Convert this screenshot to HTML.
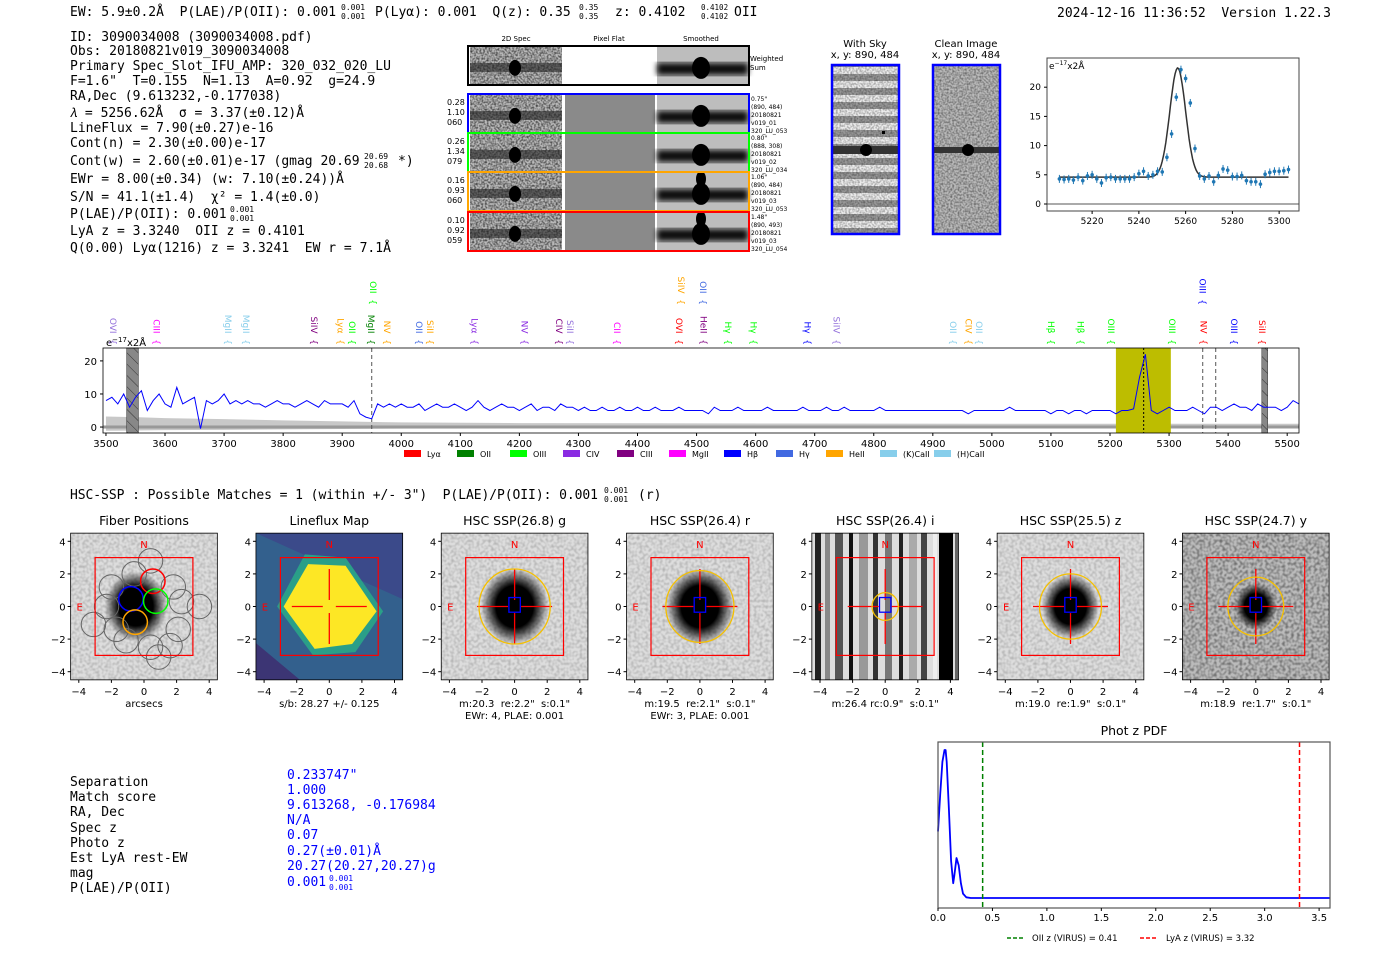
<!DOCTYPE html>
<html><head><meta charset="utf-8"><title>ELiXer report 3090034008</title>
<style>
html,body{margin:0;padding:0;background:#fff;width:1400px;height:953px;overflow:hidden}
svg{display:block}
text{white-space:pre}
.mono{font-family:"DejaVu Sans Mono","Liberation Mono",monospace;font-size:13px;fill:#000}
.sans{font-family:"DejaVu Sans","Liberation Sans",sans-serif}
.sm{font-family:"DejaVu Sans","Liberation Sans",sans-serif;font-size:7px;fill:#000}
</style></head>
<body>
<svg id="page" width="1400" height="953" viewBox="0 0 1400 953" xmlns="http://www.w3.org/2000/svg" xml:space="preserve">
<defs>
<filter id="noise" x="0" y="0" width="100%" height="100%"><feTurbulence type="fractalNoise" baseFrequency="0.55" numOctaves="1" seed="3"/><feColorMatrix type="matrix" values="0 0 0 0 0  0 0 0 0 0  0 0 0 0 0  0 0 0 1.6 -0.55"/></filter>
<filter id="noise2" x="0" y="0" width="100%" height="100%"><feTurbulence type="fractalNoise" baseFrequency="0.35" numOctaves="1" seed="7"/><feColorMatrix type="matrix" values="0 0 0 0 0  0 0 0 0 0  0 0 0 0 0  0 0 0 1.2 -0.45"/></filter>
<filter id="blur3"><feGaussianBlur stdDeviation="3"/></filter>
<pattern id="hatch" width="8" height="8" patternUnits="userSpaceOnUse" patternTransform="rotate(-45)"><rect width="8" height="8" fill="#888"/><line x1="0" y1="0" x2="0" y2="8" stroke="#333" stroke-width="1"/></pattern>
<pattern id="skystripe" width="10" height="14" patternUnits="userSpaceOnUse"><rect width="10" height="14" fill="#eee"/><rect y="4" width="10" height="7" fill="#999"/></pattern>
<pattern id="istripe" x="811" y="0" width="150" height="10" patternUnits="userSpaceOnUse">
<rect width="150" height="10" fill="#ddd"/><rect x="4" width="6" height="10" fill="#222"/><rect x="14" width="5" height="10" fill="#888"/><rect x="24" width="8" height="10" fill="#555"/><rect x="38" width="4" height="10" fill="#111"/><rect x="48" width="9" height="10" fill="#999"/><rect x="62" width="5" height="10" fill="#333"/><rect x="74" width="7" height="10" fill="#777"/><rect x="88" width="4" height="10" fill="#222"/><rect x="98" width="8" height="10" fill="#aaa"/><rect x="110" width="6" height="10" fill="#444"/><rect x="122" width="4" height="10" fill="#eee"/><rect x="128" width="14" height="10" fill="#000"/><rect x="144" width="3" height="10" fill="#666"/>
</pattern>
<radialGradient id="blob"><stop offset="0" stop-color="#000"/><stop offset="0.55" stop-color="#000"/><stop offset="1" stop-color="#000" stop-opacity="0"/></radialGradient>
</defs>

<g class="mono">
<text x="70" y="16">EW: 5.9±0.2Å  P(LAE)/P(OII): 0.001</text>
<text x="341" y="10" font-size="8">0.001</text><text x="341" y="19" font-size="8">0.001</text>
<text x="375" y="16">P(Lyα): 0.001  Q(z): 0.35</text>
<text x="579" y="10" font-size="8">0.35</text><text x="579" y="19" font-size="8">0.35</text>
<text x="615" y="16">z: 0.4102</text>
<text x="701" y="10" font-size="7.5">0.4102</text><text x="701" y="19" font-size="7.5">0.4102</text>
<text x="734" y="16">OII</text>
</g>
<text class="mono" x="1057" y="17">2024-12-16 11:36:52  Version 1.22.3</text>

<g class="mono">
<text x="70" y="41">ID: 3090034008 (3090034008.pdf)</text>
<text x="70" y="55">Obs: 20180821v019_3090034008</text>
<text x="70" y="70">Primary Spec_Slot_IFU_AMP: 320_032_020_LU</text>
<text x="70" y="85">F=1.6"  T=0.155  N=1.13  A=0.92  g=24.9</text>
<text x="70" y="100">RA,Dec (9.613232,-0.177038)</text>
<text x="70" y="117">𝜆 = 5256.62Å  σ = 3.37(±0.12)Å</text>
<text x="70" y="132">LineFlux = 7.90(±0.27)e-16</text>
<text x="70" y="147">Cont(n) = 2.30(±0.00)e-17</text>
<text x="70" y="165">Cont(w) = 2.60(±0.01)e-17 (gmag 20.69</text>
<text x="364" y="159" font-size="8">20.69</text><text x="364" y="168" font-size="8">20.68</text>
<text x="398" y="165">*)</text>
<text x="70" y="183">EWr = 8.00(±0.34) (w: 7.10(±0.24))Å</text>
<text x="70" y="201">S/N = 41.1(±1.4)  χ² = 1.4(±0.0)</text>
<text x="70" y="218">P(LAE)/P(OII): 0.001</text>
<text x="230" y="212" font-size="8">0.001</text><text x="230" y="221" font-size="8">0.001</text>
<text x="70" y="235">LyA z = 3.3240  OII z = 0.4101</text>
<text x="70" y="252">Q(0.00) Lyα(1216) z = 3.3241  EW r = 7.1Å</text>
</g>

<g>
<text class="sm" x="516" y="41" text-anchor="middle">2D Spec</text>
<text class="sm" x="609" y="41" text-anchor="middle">Pixel Flat</text>
<text class="sm" x="701" y="41" text-anchor="middle">Smoothed</text>
<text class="sm" x="750" y="61">Weighted</text><text class="sm" x="750" y="70">Sum</text>
</g>
<g id="spec2d"></g>

<g>
<text class="sans" x="865" y="47" font-size="10" text-anchor="middle">With Sky</text>
<text class="sans" x="865" y="58" font-size="10" text-anchor="middle">x, y: 890, 484</text>
<rect x="832" y="65" width="67" height="169" fill="url(#skystripe)"/>
<rect x="832" y="65" width="67" height="169" filter="url(#noise)" opacity="0.5"/>
<rect x="832" y="146" width="67" height="8" fill="#333"/>
<circle cx="866" cy="150" r="6" fill="#000"/><rect x="882" y="131" width="3" height="3" fill="#000"/>
<rect x="832" y="65" width="67" height="169" fill="none" stroke="#00f" stroke-width="2.5"/>
</g>
<g>
<text class="sans" x="966" y="47" font-size="10" text-anchor="middle">Clean Image</text>
<text class="sans" x="966" y="58" font-size="10" text-anchor="middle">x, y: 890, 484</text>
<rect x="933" y="65" width="67" height="169" fill="#bbb"/>
<rect x="933" y="65" width="67" height="169" filter="url(#noise)" opacity="0.6"/>
<rect x="933" y="147" width="67" height="6" fill="#333"/>
<circle cx="968" cy="150" r="6" fill="#000"/>
<rect x="933" y="65" width="67" height="169" fill="none" stroke="#00f" stroke-width="2.5"/>
</g>

<g id="fitplot"></g>
<g id="spectrum"></g>

<text class="mono" x="70" y="499" textLength="528">HSC-SSP : Possible Matches = 1 (within +/- 3")  P(LAE)/P(OII): 0.001</text>
<text class="mono" x="604" y="493" style="font-size:8px">0.001</text>
<text class="mono" x="604" y="502" style="font-size:8px">0.001</text>
<text class="mono" x="638" y="499">(r)</text>

<g id="cutouts"></g>

<g class="mono">
<text x="70" y="786">Separation</text><text x="287" y="779" style="fill:#00f">0.233747"</text>
<text x="70" y="801">Match score</text><text x="287" y="794" style="fill:#00f">1.000</text>
<text x="70" y="816">RA, Dec</text><text x="287" y="809" style="fill:#00f">9.613268, -0.176984</text>
<text x="70" y="832">Spec z</text><text x="287" y="824" style="fill:#00f">N/A</text>
<text x="70" y="847">Photo z</text><text x="287" y="839" style="fill:#00f">0.07</text>
<text x="70" y="862">Est LyA rest-EW</text><text x="287" y="855" style="fill:#00f">0.27(±0.01)Å</text>
<text x="70" y="877">mag</text><text x="287" y="870" style="fill:#00f">20.27(20.27,20.27)g</text>
<text x="70" y="892">P(LAE)/P(OII)</text><text x="287" y="886" style="fill:#00f">0.001</text>
<text x="329" y="881" font-size="8" style="fill:#00f">0.001</text><text x="329" y="890" font-size="8" style="fill:#00f">0.001</text>
</g>

<g id="photz"></g>
</svg>

<script>
const NS='http://www.w3.org/2000/svg';
function mk(parent,tag,attrs,text){const e=document.createElementNS(NS,tag);for(const k in attrs)e.setAttribute(k,attrs[k]);if(text!==undefined)e.textContent=text;parent.appendChild(e);return e;}

/* ---------------- main spectrum data ---------------- */
const specWaveStart=3500;
const specWaveStep=10;
const specFlux=[
8,9,7,10,6,9,11,5,8,10,7,6,12,7,8,9,-0.5,8,7,8,
10,7,8,7,8,7,7,6,7,8,7,7,6,7,8,7,6,8,7,7,
7,6,8,4,3,2.5,7,6,7,6,7,6,6,7,5,6,7,6,6,7,
6,5,6,8,6,5,6,7,6,6,5,6,7,5,6,6,5,7,6,6,
5,6,5,5,6,5,5,6,5,5,6,5,5,6,5,5,5,6,5,5,
5,5,4,6,5,5,5,6,5,5,5,5,6,5,5,5,5,5,6,5,
5,5,6,5,5,6,5,5,5,5,5,6,5,5,5,5,5,5,5,5,
5,5,5,5,5,5,4,5,5,5,5,5,5,6,5,5,5,5,5,5,
4,5,5,4,5,5,4,5,5,5,5,4,5,5,5.5,15,22,5,4,5,
6,5,5,5,6,5,4,6,6,5,6,7,6,6,5,7,6,6,6,5,
6,8,7];
const specErrWave=[3500,3550,3600,3700,3800,3900,4000,4200,4500,5000,5520];
const specErr=[3.2,3.0,2.7,2.4,2.0,1.7,1.4,1.2,1.1,1.0,1.0];
const specTicks=[3500,3600,3700,3800,3900,4000,4100,4200,4300,4400,4500,4600,4700,4800,4900,5000,5100,5200,5300,5400,5500];
const specYTicks=[0,10,20];
const lineNames=['OVI','CIII','MgII','MgII','SiIV','Lyα','OII','MgII','NV','OII','SiII','Lyα','NV','CIV','SiII','CII','OVI','HeII','Hγ','Hγ','Hγ','SiIV','OII','CIV','OII','Hβ','Hβ','OIII','OIII','NV','OIII','SiII','OII','SiIV','OII','OIII'];
const lineWaves=[3512,3586,3707,3737,3852,3897,3917,3949,3976,4030,4049,4124,4209,4267,4286,4365,4470,4512,4553,4596,4688,4737,4934,4960,4978,5100,5150,5202,5305,5358,5410,5457,3952,4474,4511,5357];
const lineRow=[0,0,0,0,0,0,0,0,0,0,0,0,0,0,0,0,0,0,0,0,0,0,0,0,0,0,0,0,0,0,0,0,1,1,1,1];
const lineColors=['#9370db','#ff00ff','#87ceeb','#87ceeb','#800080','#ffa500','#00ff00','#008000','#ffa500','#4169e1','#ffa500','#8a2be2','#8a2be2','#800080','#9370db','#ff00ff','#ff0000','#800080','#00ff00','#00ff00','#0000ff','#9370db','#87ceeb','#ffa500','#87ceeb','#00ff00','#00ff00','#00ff00','#00ff00','#ff0000','#0000ff','#ff0000','#00ff00','#ffa500','#4169e1','#0000ff'];
const legendNames=['Lyα','OII','OIII','CIV','CIII','MgII','Hβ','Hγ','HeII','(K)CaII','(H)CaII'];
const legendColors=['#ff0000','#008000','#00ff00','#8a2be2','#800080','#ff00ff','#0000ff','#4169e1','#ffa500','#87ceeb','#87ceeb'];

(function(){
 const g=document.getElementById('spectrum');
 
 
 const L=103,R=1299,T=348,B=433,x0=3495,x1=5520,y0=-1.8,y1=23.9;
 const X=w=>L+(w-x0)/(x1-x0)*(R-L), Y=v=>B-(v-y0)/(y1-y0)*(B-T);
 let top='',bot='';
 specErrWave.forEach((w,i)=>{top+=X(w)+','+Y(specErr[i])+' ';});
 for(let i=specErrWave.length-1;i>=0;i--)bot+=X(specErrWave[i])+','+Y(-specErr[i]*0.35)+' ';
 const band=mk(g,'polygon',{points:top+bot,fill:'#c8c8c8'});
 
 
 const zl=mk(g,'line',{x1:L,x2:R,y1:Y(0),y2:Y(0),stroke:'#999',"stroke-width":3});
 
 
 const ol=mk(g,'rect',{x:X(5210),y:T,width:X(5303)-X(5210),height:B-T,fill:'#bdbd00'});
 
 
 [[3535,3555],[5457,5467]].forEach(r=>{const h=mk(g,'rect',{x:X(r[0]),y:T,width:X(r[1])-X(r[0]),height:B-T,fill:'url(#hatch)',stroke:'#333','stroke-width':0.5});
 
 });
 [3950,5357,5379].forEach(w=>{const d=mk(g,'line',{x1:X(w),x2:X(w),y1:T,y2:B,stroke:'#555','stroke-dasharray':'4,3'});
 
 });
 const pk=mk(g,'line',{x1:X(5257),x2:X(5257),y1:T,y2:B,stroke:'#000','stroke-dasharray':'2,2'});
 
 
 const pts=specFlux.map((v,i)=>X(specWaveStart+i*specWaveStep).toFixed(1)+','+Y(v).toFixed(1)).join(' ');
 const fl=mk(g,'polyline',{points:pts,fill:'none',stroke:'#0000ff','stroke-width':1});
 
 
 const fr=mk(g,'rect',{x:L,y:T,width:R-L,height:B-T,fill:'none',stroke:'#000','stroke-width':0.8});
 
 
 specTicks.forEach(t=>{mk(g,'line',{x1:X(t),x2:X(t),y1:B,y2:B+3,stroke:'#000'});
  const tl=mk(g,'text',{x:X(t),y:B+14,'font-size':10,'text-anchor':'middle',class:'sans'},String(t));
  
  });
 specYTicks.forEach(t=>{mk(g,'line',{x1:L-3,x2:L,y1:Y(t),y2:Y(t),stroke:'#000'});
  const tl=mk(g,'text',{x:L-6,y:Y(t)+4,'font-size':10,'text-anchor':'end',class:'sans'},String(t));
  
  });
 const un=mk(g,'text',{x:106,y:346,'font-size':10,class:'sans'});
 un.innerHTML='e<tspan font-size="7" dy="-4">−17</tspan><tspan dy="4">x2Å</tspan>';
 
 
 lineNames.forEach((n,i)=>{const x=X(lineWaves[i]);const yEnd=lineRow[i]?305:345;
  const t=mk(g,'text',{x:0,y:0,'font-size':9,class:'sans',fill:lineColors[i],'text-anchor':'end',transform:`translate(${x-3},${yEnd}) rotate(90)`},n+'  {');
  
  });
 const lx=[404,457,510,563,617,669,724,776,826,880,934];
 legendNames.forEach((n,i)=>{const p=mk(g,'rect',{x:lx[i],y:450,width:17,height:7,fill:legendColors[i]});
  
  
  const t=mk(g,'text',{x:lx[i]+23,y:457,'font-size':8,class:'sans'},n);
  
  });
})();

/* ---------------- line fit plot ---------------- */
const fitStart=5206;
const fitStep=2;
const fitFlux=[4.3,4.2,4.3,4.1,4.6,4.0,4.8,5.0,4.3,3.6,4.5,4.6,4.3,4.3,4.3,4.3,4.6,5.2,5.6,4.8,5.0,5.6,5.5,8.0,12.0,18.3,23.0,21.5,17.3,9.5,4.8,4.3,4.8,3.8,4.9,6.0,5.8,4.7,4.7,4.9,4.0,3.8,3.8,3.4,5.1,5.4,5.6,5.6,5.7,5.9];
const fitCenter=5256.62, fitSigma=3.37, fitAmp=18.7, fitCont=4.6;
const fitTicks=[5220,5240,5260,5280,5300];
const fitYTicks=[0,5,10,15,20];
(function(){
 const g=document.getElementById('fitplot');
 
 
 const L=1047,R=1299,T=58,B=211,x0=5200.7,x1=5308.5,y0=-1.2,y1=25;
 const X=w=>L+(w-x0)/(x1-x0)*(R-L), Y=v=>B-(v-y0)/(y1-y0)*(B-T);
 mk(g,'line',{x1:L,x2:R,y1:Y(0),y2:Y(0),stroke:'#555','stroke-width':1});
 let p='';for(let w=5206;w<=5304;w+=0.5){p+=X(w).toFixed(1)+','+Y(fitCont+fitAmp*Math.exp(-0.5*((w-fitCenter)/fitSigma)**2)).toFixed(1)+' ';}
 const m=mk(g,'polyline',{points:p,fill:'none',stroke:'#333','stroke-width':1.5});
 
 
 fitFlux.forEach((v,i)=>{const x=X(fitStart+i*fitStep),y=Y(v);
  const e=mk(g,'line',{x1:x,x2:x,y1:y-4,y2:y+4,stroke:'#1f77b4','stroke-width':1});
  
  
  const c=mk(g,'circle',{cx:x,cy:y,r:1.8,fill:'#1f77b4'});
  
  });
 const fr=mk(g,'rect',{x:L,y:T,width:R-L,height:B-T,fill:'none',stroke:'#444'});
 
 
 fitTicks.forEach(t=>{mk(g,'line',{x1:X(t),x2:X(t),y1:B,y2:B+3,stroke:'#000'});
  const tl=mk(g,'text',{x:X(t),y:B+13,'font-size':9,'text-anchor':'middle',class:'sans'},String(t));
  
  });
 fitYTicks.forEach(t=>{mk(g,'line',{x1:L-3,x2:L,y1:Y(t),y2:Y(t),stroke:'#000'});
  const tl=mk(g,'text',{x:L-6,y:Y(t)+3,'font-size':9,'text-anchor':'end',class:'sans'},String(t));
  
  });
 const un=mk(g,'text',{x:L+2,y:T+11,'font-size':9,class:'sans'});
 un.innerHTML='e<tspan font-size="6" dy="-4">−17</tspan><tspan dy="4">x2Å</tspan>';
 
 
})();

/* ---------------- 2D spectra ---------------- */
const rowColors=['#000','#00f','#0f0','orange','red'];
const rowTops=[47,95,134,173,213];
const rowLeft=[['',''],['0.28','1.10','060'],['0.26','1.34','079'],['0.16','0.93','060'],['0.10','0.92','059']];
const rowRight=[[],['0.75"','(890, 484)','20180821','v019_01','320_LU_053'],['0.80"','(888, 308)','20180821','v019_02','320_LU_034'],['1.06"','(890, 484)','20180821','v019_03','320_LU_053'],['1.48"','(890, 493)','20180821','v019_03','320_LU_054']];
(function(){
 const g=document.getElementById('spec2d');
 rowTops.forEach((y,i)=>{const h=38;
  const r=mk(g,'g',{});
  
  
  mk(r,'rect',{x:470,y:y,width:92,height:h,fill:'#bbb'});
  mk(r,'rect',{x:470,y:y,width:92,height:h,filter:'url(#noise)',opacity:0.9});
  mk(r,'rect',{x:470,y:y+h*0.42,width:92,height:9,fill:'#222',opacity:0.6});
  mk(r,'ellipse',{cx:515,cy:y+h*0.55,rx:6,ry:8,fill:'#000'});
  mk(r,'rect',{x:565,y:y,width:90,height:h,fill:i==0?'#fff':'#8a8a8a'});
  mk(r,'rect',{x:657,y:y,width:91,height:h,fill:'#bdbdbd'});
  mk(r,'rect',{x:657,y:y+h*0.42,width:91,height:12,fill:'#111',filter:'url(#blur3)'});
  mk(r,'ellipse',{cx:701,cy:y+h*0.55,rx:9,ry:11,fill:'#000'});
  if(i>=3)mk(r,'ellipse',{cx:701,cy:y+6,rx:5,ry:8,fill:'#000'});
  mk(r,'rect',{x:468,y:y-1,width:281,height:h+1,fill:'none',stroke:rowColors[i],'stroke-width':2});
  rowLeft[i].forEach((s,k)=>{mk(r,'text',{x:447,y:y+10+k*10,'font-size':8,class:'sans'},s);});
  rowRight[i].forEach((s,k)=>{mk(r,'text',{x:751,y:y+6+k*8,'font-size':6,class:'sans'},s);});
 });
})();

/* ---------------- cutouts ---------------- */
const cutTitles=['Fiber Positions','Lineflux Map','HSC SSP(26.8) g','HSC SSP(26.4) r','HSC SSP(26.4) i','HSC SSP(25.5) z','HSC SSP(24.7) y'];
const cutCaps=[['arcsecs'],['s/b: 28.27 +/- 0.125'],['m:20.3  re:2.2"  s:0.1"','EWr: 4, PLAE: 0.001'],['m:19.5  re:2.1"  s:0.1"','EWr: 3, PLAE: 0.001'],['m:26.4 rc:0.9"  s:0.1"'],['m:19.0  re:1.9"  s:0.1"'],['m:18.9  re:1.7"  s:0.1"']];
const apRadius=[0,0,2.3,2.2,0.85,2.0,1.8];
const blobRadius=[1.2,0,1.3,1.3,0,1.1,0.8];
const cutTicks=[-4,-2,0,2,4];
const fiberX=[0.4,-0.6,-2.0,1.8,3.4,-3.1,-1.7,0.4,0.9,2.1,2.3,-2.3,-1.1,1.6];
const fiberY=[2.8,2.0,1.2,1.2,0.0,-1.1,-1.4,-2.5,-3.1,-1.4,0.3,0.0,-2.1,-2.4];
const fibColX=[-0.8,0.54,0.72,-0.54];
const fibColY=[0.47,1.55,0.33,-0.96];
const fibCol=['#00f','red','#0f0','orange'];
(function(){
 const root=document.getElementById('cutouts');
 const S=16.3;
 cutTitles.forEach((title,i)=>{
  const cx=144+i*185.3, cy=606.5, L=cx-4.5*S, T=cy-4.5*S, W=9*S;
  const g=mk(root,'g',{});
  
  
  const clip='clip'+i;
  const cp=mk(g,'clipPath',{id:clip});mk(cp,'rect',{x:L,y:T,width:W,height:W});
  const im=mk(g,'g',{'clip-path':`url(#${clip})`});
  if(i==1){
   mk(im,'rect',{x:L,y:T,width:W,height:W,fill:'#33608d'});
   mk(im,'polygon',{points:`${L},${T} ${L+W},${T} ${L+W},${T+W*0.45}`,fill:'#3b4a8a'});
   mk(im,'polygon',{points:`${L},${T+W*0.75} ${L+W*0.3},${T+W} ${L},${T+W}`,fill:'#3e2a6e',opacity:0.8});
   mk(im,'polygon',{points:`${cx-3.2*S},${cy} ${cx-1.5*S},${cy-3.2*S} ${cx+1*S},${cy-3*S} ${cx+3.3*S},${cy+0.3*S} ${cx+1.6*S},${cy+2.8*S} ${cx-1*S},${cy+3*S}`,fill:'#2a9f88'});
   mk(im,'polygon',{points:`${cx-2.8*S},${cy} ${cx-1.3*S},${cy-2.6*S} ${cx+1*S},${cy-2.5*S} ${cx+2.9*S},${cy+0.3*S} ${cx+1.4*S},${cy+2.3*S} ${cx-0.9*S},${cy+2.6*S}`,fill:'#fde725'});
  } else if(i==4){
   mk(im,'rect',{x:L,y:T,width:W,height:W,fill:'url(#istripe)'});
  } else {
   mk(im,'rect',{x:L,y:T,width:W,height:W,fill:i==6?'#bbb':'#ddd'});
   mk(im,'rect',{x:L,y:T,width:W,height:W,filter:'url(#noise2)',opacity:i==6?0.8:0.35});
   const bx=i==0?cx-0.5*S:cx;
   mk(im,'ellipse',{cx:bx,cy:cy,rx:blobRadius[i]*S*1.6,ry:blobRadius[i]*S*1.8,fill:'url(#blob)'});
  }
  if(i==0){
   fiberX.forEach((fx,k)=>{const c=mk(im,'circle',{cx:cx+fx*S,cy:cy-fiberY[k]*S,r:0.75*S,fill:'none',stroke:'#666','stroke-width':1});
    
    });
   fibColX.forEach((fx,k)=>{const c=mk(im,'circle',{cx:cx+fx*S,cy:cy-fibColY[k]*S,r:0.75*S,fill:'none',stroke:fibCol[k],'stroke-width':1.5});
    
    });
  }
  mk(g,'rect',{x:cx-3*S,y:cy-3*S,width:6*S,height:6*S,fill:'none',stroke:'red','stroke-width':1.2});
  if(i>=1){
   mk(g,'line',{x1:cx-2.3*S,x2:cx-0.4*S,y1:cy,y2:cy,stroke:'red','stroke-width':1.3});
   mk(g,'line',{x1:cx+0.4*S,x2:cx+2.3*S,y1:cy,y2:cy,stroke:'red','stroke-width':1.3});
   mk(g,'line',{x1:cx,x2:cx,y1:cy-2.3*S,y2:cy-0.4*S,stroke:'red','stroke-width':1.3});
   mk(g,'line',{x1:cx,x2:cx,y1:cy+0.4*S,y2:cy+2.3*S,stroke:'red','stroke-width':1.3});
  }
  if(apRadius[i]>0){const a=mk(g,'ellipse',{cx:cx,cy:cy,rx:apRadius[i]*S*0.95,ry:apRadius[i]*S,fill:'none',stroke:'#f5c000','stroke-width':1.3});
   
   
   mk(g,'rect',{x:cx-0.35*S,y:cy-0.55*S,width:0.7*S,height:0.9*S,fill:'none',stroke:'#00f','stroke-width':1.3});}
  mk(g,'text',{x:cx,y:cy-3.6*S,'font-size':10,fill:'red','text-anchor':'middle',class:'sans'},'N');
  mk(g,'text',{x:L+9,y:cy+4,'font-size':10,fill:'red','text-anchor':'middle',class:'sans'},'E');
  mk(g,'rect',{x:L,y:T,width:W,height:W,fill:'none',stroke:'#000','stroke-width':0.8});
  const tt=mk(g,'text',{x:cx,y:525,'font-size':12.5,'text-anchor':'middle',class:'sans'},title);
  
  
  cutTicks.forEach(t=>{
   mk(g,'line',{x1:cx+t*S,x2:cx+t*S,y1:T+W,y2:T+W+3,stroke:'#000'});
   mk(g,'text',{x:cx+t*S,y:T+W+15,'font-size':10,'text-anchor':'middle',class:'sans'},t<0?'−'+(-t):String(t));
   mk(g,'line',{x1:L-3,x2:L,y1:cy-t*S,y2:cy-t*S,stroke:'#000'});
   mk(g,'text',{x:L-5,y:cy-t*S+4,'font-size':10,'text-anchor':'end',class:'sans'},t<0?'−'+(-t):String(t));
  });
  cutCaps[i].forEach((c,k)=>{const ct=mk(g,'text',{x:cx,y:707+k*12,'font-size':10,'text-anchor':'middle',class:'sans'},c);
   
   });
 });
})();

/* ---------------- phot z PDF ---------------- */
const pdfZ=[0,0.02,0.04,0.06,0.07,0.08,0.1,0.12,0.14,0.15,0.17,0.19,0.21,0.23,0.26,0.3,3.6];
const pdfP=[0.45,0.7,0.92,1.0,1.0,0.92,0.6,0.25,0.1,0.15,0.27,0.22,0.1,0.03,0.005,0,0];
const pdfTicks=[0,0.5,1.0,1.5,2.0,2.5,3.0,3.5];
const oiiZ=0.41, lyaZ=3.32;
(function(){
 const g=document.getElementById('photz');
 
 
 const L=938,R=1330,T=742,B=908;
 const X=z=>L+z/3.6*(R-L), Y=p=>898-p*148;
 const tl=mk(g,'text',{x:(L+R)/2,y:735,'font-size':12.5,'text-anchor':'middle',class:'sans'},'Phot z PDF');
 
 
 const pl=mk(g,'polyline',{points:pdfZ.map((z,i)=>X(z).toFixed(1)+','+Y(pdfP[i]).toFixed(1)).join(' '),fill:'none',stroke:'#00f','stroke-width':1.8,'stroke-linejoin':'round'});
 
 
 const o=mk(g,'line',{x1:X(oiiZ),x2:X(oiiZ),y1:T,y2:B,stroke:'green','stroke-width':1.5,'stroke-dasharray':'5,3'});
 
 
 const l=mk(g,'line',{x1:X(lyaZ),x2:X(lyaZ),y1:T,y2:B,stroke:'red','stroke-width':1.5,'stroke-dasharray':'5,3'});
 
 
 const fr=mk(g,'rect',{x:L,y:T,width:R-L,height:B-T,fill:'none',stroke:'#555','stroke-width':1.2});
 
 
 pdfTicks.forEach(t=>{mk(g,'line',{x1:X(t),x2:X(t),y1:B,y2:B+3,stroke:'#000'});
  const tt=mk(g,'text',{x:X(t),y:B+13,'font-size':10,'text-anchor':'middle',class:'sans'},t.toFixed(1));
  
  });
 mk(g,'line',{x1:1007,x2:1025,y1:938,y2:938,stroke:'green','stroke-width':1.5,'stroke-dasharray':'4,2'});
 const a=mk(g,'text',{x:1032,y:941,'font-size':8.5,class:'sans'},'OII z (VIRUS) = 0.41');
 
 
 mk(g,'line',{x1:1140,x2:1158,y1:938,y2:938,stroke:'red','stroke-width':1.5,'stroke-dasharray':'4,2'});
 const b=mk(g,'text',{x:1166,y:941,'font-size':8.5,class:'sans'},'LyA z (VIRUS) = 3.32');
 
 
})();
</script>
</body></html>
